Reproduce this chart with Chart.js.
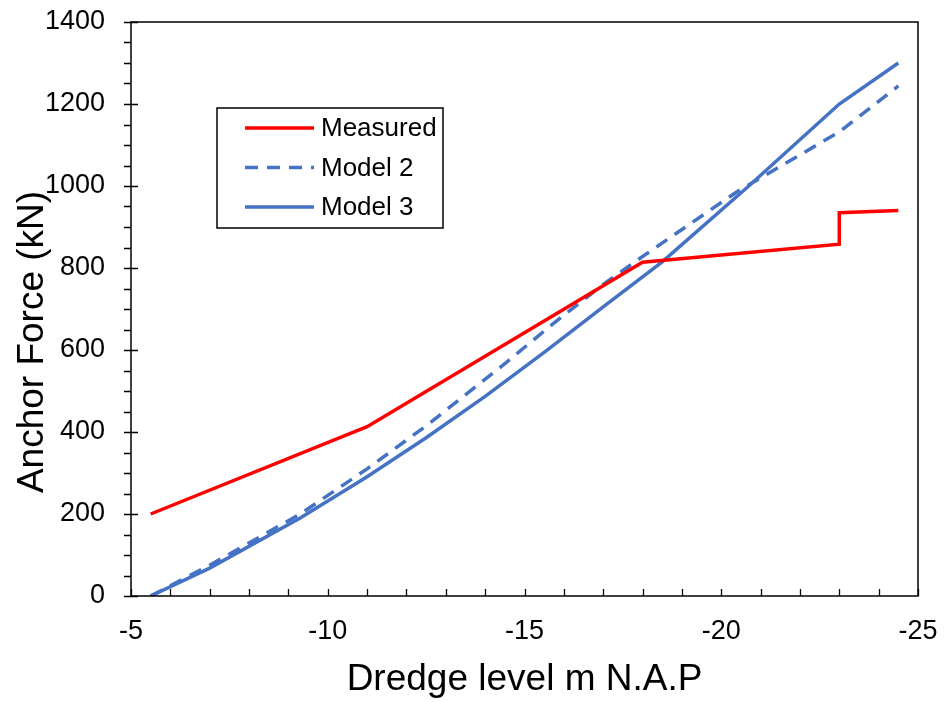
<!DOCTYPE html>
<html>
<head>
<meta charset="utf-8">
<title>Anchor Force vs Dredge level</title>
<script src="https://cdn.jsdelivr.net/npm/chart.js@4.4.1/dist/chart.umd.min.js"></script>
<style>
  html, body { margin: 0; padding: 0; background: #fff; }
  #wrap { width: 944px; height: 702px; }
</style>
</head>
<body>
<div id="wrap"><canvas id="chart" width="944" height="702"></canvas></div>
<script>
// Dredge level (m N.A.P) vs anchor force (kN)

const measuredLevel = [-5.5, -11, -18, -23, -23, -24.5];
const measuredForce = [200, 413, 814, 858, 935, 940];

const model2Level = [-5.5, -7, -9.3, -11, -12.5, -14.4, -15.7, -17, -18, -20.4, -23, -24.5];
const model2Force = [0, 75, 200, 310, 415, 559, 662, 760, 828, 986, 1132, 1244];

const model3Level = [-5.5, -7, -9.3, -11, -12.5, -14, -15.5, -17, -18.5, -20.7, -23, -24.5];
const model3Force = [0, 68, 190, 291, 386, 487, 594, 705, 815, 1000, 1200, 1300];

const xTicks = [-5, -10, -15, -20, -25];
const yTicks = [0, 200, 400, 600, 800, 1000, 1200, 1400];

const xTitle = 'Dredge level m N.A.P';
const yTitle = 'Anchor Force (kN)';

const FONT = '"Liberation Sans", Arial, sans-serif';

function toPoints(xs, ys) {
  return xs.map((x, i) => ({ x: x, y: ys[i] }));
}

// box round the plot, small tick marks and the axis titles
const frame = {
  id: 'frame',
  afterDraw(chart) {
    const ctx = chart.ctx;
    const a = chart.chartArea;
    const xs = chart.scales.x, ys = chart.scales.y;
    ctx.save();
    ctx.strokeStyle = '#000';
    ctx.lineWidth = 1.5;
    ctx.strokeRect(a.left, a.top, a.right - a.left, a.bottom - a.top);

    ctx.lineWidth = 1.3;
    ctx.beginPath();
    for (let v = -5; v >= -25; v -= 1) {
      const px = Math.round(xs.getPixelForValue(v)) + 0.5;
      ctx.moveTo(px, a.bottom);
      ctx.lineTo(px, a.bottom - 7);
    }
    for (let v = 0; v <= 1400; v += 50) {
      const py = Math.round(ys.getPixelForValue(v)) + 0.5;
      ctx.moveTo(a.left - 7, py);
      ctx.lineTo(v % 200 === 0 ? a.left + 7 : a.left, py);
    }
    ctx.stroke();

    ctx.fillStyle = '#000';
    ctx.font = '37px ' + FONT;
    ctx.textAlign = 'center';
    ctx.textBaseline = 'alphabetic';
    ctx.fillText(xTitle, (a.left + a.right) / 2, 690);

    ctx.translate(43, 342);
    ctx.rotate(-Math.PI / 2);
    ctx.fillText(yTitle, 0, 0);
    ctx.restore();
  }
};

// legend box inside the plot
const boxLegend = {
  id: 'boxLegend',
  afterDraw(chart) {
    const ctx = chart.ctx;
    const left = 217, top = 108, w = 226, h = 120;
    ctx.save();
    ctx.fillStyle = '#fff';
    ctx.fillRect(left, top, w, h);
    ctx.strokeStyle = '#000';
    ctx.lineWidth = 1.5;
    ctx.strokeRect(left, top, w, h);
    ctx.font = '26px ' + FONT;
    ctx.textBaseline = 'middle';
    ctx.textAlign = 'left';
    chart.data.datasets.forEach((ds, i) => {
      const y = 128 + i * 39.5;
      ctx.strokeStyle = ds.borderColor;
      ctx.lineWidth = 3.5;
      ctx.setLineDash(ds.borderDash || []);
      ctx.beginPath();
      ctx.moveTo(245, y);
      ctx.lineTo(314, y);
      ctx.stroke();
      ctx.setLineDash([]);
      ctx.fillStyle = '#000';
      ctx.fillText(ds.label, 321, y + 1);
    });
    ctx.restore();
  }
};

new Chart(document.getElementById('chart'), {
  type: 'scatter',
  data: {
    datasets: [
      { label: 'Measured', data: toPoints(measuredLevel, measuredForce),
        borderColor: '#FF0000', borderWidth: 3.5, showLine: true, pointRadius: 0, tension: 0 },
      { label: 'Model 2', data: toPoints(model2Level, model2Force),
        borderColor: '#4472C4', borderWidth: 3.5, borderDash: [13, 9],
        showLine: true, pointRadius: 0, tension: 0 },
      { label: 'Model 3', data: toPoints(model3Level, model3Force),
        borderColor: '#4472C4', borderWidth: 3.5, showLine: true, pointRadius: 0, tension: 0 }
    ]
  },
  options: {
    responsive: false,
    animation: false,
    layout: { padding: { left: 0, top: 22, right: 26, bottom: 0 } },
    plugins: { legend: { display: false }, tooltip: { enabled: false } },
    scales: {
      x: {
        type: 'linear', min: -25, max: -5, reverse: true,
        afterFit(s) { s.height = 106; s.paddingLeft = 0; s.paddingRight = 0; },
        afterBuildTicks(s) { s.ticks = xTicks.map(v => ({ value: v })); },
        grid: { display: false, drawTicks: false },
        border: { display: false },
        ticks: { color: '#000', font: { family: FONT, size: 27 }, padding: 19,
                 callback: v => String(v) }
      },
      y: {
        type: 'linear', min: 0, max: 1400,
        afterFit(s) { s.width = 131; s.paddingTop = 0; s.paddingBottom = 0; },
        afterBuildTicks(s) { s.ticks = yTicks.map(v => ({ value: v })); },
        grid: { display: false, drawTicks: false },
        border: { display: false },
        ticks: { color: '#000', font: { family: FONT, size: 27 }, padding: 26,
                 callback: v => String(v) }
      }
    }
  },
  plugins: [frame, boxLegend]
});
</script>
</body>
</html>
